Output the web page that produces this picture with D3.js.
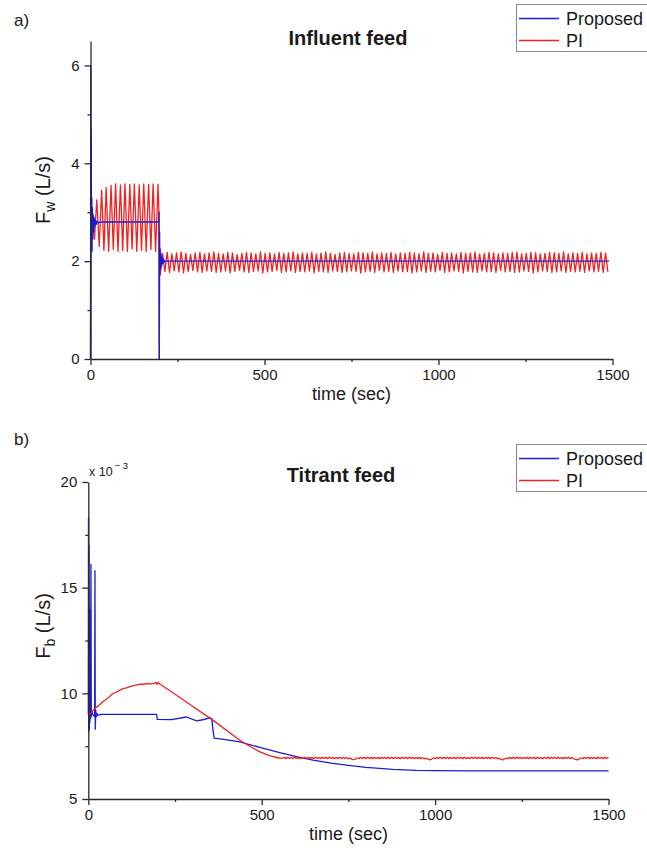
<!DOCTYPE html>
<html>
<head>
<meta charset="utf-8">
<title>Influent and titrant feed</title>
<script src="https://d3js.org/d3.v7.min.js"></script>
<style>
  body { margin: 0; background: #fff; }
  svg text { font-family: "Liberation Sans", Arial, sans-serif; fill: #1a1a1a; }
</style>
</head>
<body>
<div id="chart"></div>
<script>
// ---------------- data ----------------
const seriesNames = ["Proposed", "PI"];
const timeTicks = [0, 500, 1000, 1500];
const timeMinorTicks = [250, 750, 1250];
const fwTicks = [0, 2, 4, 6];
const fwMinorTicks = [1, 3, 5];
const fbTicks = [5, 10, 15, 20];
const fbMinorTicks = [7.5, 12.5, 17.5];

// a) influent feed Fw (L/s), proposed controller
const fwPropTime  = [0, 0.8, 1.5, 2.2, 3, 3.8, 4.6, 5.5, 6.5, 7.5, 9, 10.5, 12, 14, 16, 19, 23, 28,
                     196, 197, 197.8, 198.6, 199.5, 200.5, 201.5, 203, 204.5, 206, 208, 210, 213, 217, 222, 230, 1490];
const fwPropValue = [0, 6.0, 2.9, 4.7, 2.5, 3.3, 2.2, 3.1, 2.45, 2.95, 2.6, 2.9, 2.7, 2.85, 2.75, 2.82, 2.78, 2.8,
                     2.8, 3.0, 0, 2.6, 1.75, 2.25, 1.85, 2.15, 1.9, 2.08, 1.95, 2.04, 1.98, 2.01, 2.0, 2.0, 2.0];

// a) influent feed, PI controller (start-up and first set point)
const fwPiTime  = [0, 0.8, 5, 11.5, 18, 25, 32, 38.5, 45, 52, 59, 65.5, 72, 79, 86, 92.5, 99, 106, 113,
                   119.5, 126, 133, 140, 146.5, 153, 160, 167, 173.5, 180, 187, 194, 196.5, 197.3, 198.5, 200.5];
const fwPiValue = [0, 3.0, 3.05, 2.45, 3.25, 2.3, 3.45, 2.22, 3.5, 2.2, 3.55, 2.24, 3.58, 2.2, 3.56, 2.22, 3.58, 2.2, 3.57,
                   2.25, 3.58, 2.2, 3.56, 2.22, 3.58, 2.2, 3.57, 2.24, 3.58, 2.2, 3.57, 3.0, 0, 2.2, 1.72];
// PI oscillation after the set point change, read peak/trough every half period
const fwPiTailStart = 207;
const fwPiTailStep = 6.7;
const fwPiTail = [
  2.16,1.79,2.18,1.77,2.15,1.80,2.17,1.78,2.19,1.76,2.16,1.79,
  2.14,1.81,2.17,1.78,2.18,1.77,2.15,1.80,2.17,1.79,2.19,1.77,
  2.16,1.78,2.15,1.80,2.18,1.76,2.17,1.79,2.14,1.81,2.16,1.78,
  2.18,1.77,2.17,1.79,2.15,1.80,2.19,1.76,2.16,1.78,2.17,1.79,
  2.15,1.81,2.18,1.77,2.16,1.78,2.17,1.80,2.19,1.77,2.15,1.79,
  2.17,1.78,2.16,1.80,2.18,1.76,2.15,1.79,2.17,1.78,2.19,1.77,
  2.16,1.80,2.14,1.79,2.17,1.77,2.18,1.78,2.16,1.80,2.15,1.79,
  2.18,1.76,2.17,1.78,2.16,1.79,2.19,1.77,2.15,1.81,2.17,1.78,
  2.16,1.79,2.18,1.77,2.15,1.80,2.17,1.78,2.16,1.79,2.18,1.76,
  2.17,1.78,2.15,1.80,2.19,1.77,2.16,1.79,2.17,1.78,2.14,1.81,
  2.18,1.77,2.16,1.78,2.17,1.80,2.15,1.79,2.18,1.76,2.16,1.79,
  2.17,1.78,2.19,1.77,2.15,1.80,2.16,1.78,2.18,1.79,2.17,1.77,
  2.15,1.81,2.17,1.78,2.16,1.79,2.18,1.77,2.19,1.78,2.15,1.80,
  2.16,1.79,2.18,1.76,2.17,1.78,2.15,1.80,2.16,1.79,2.18,1.77,
  2.17,1.78,2.16,1.80,2.19,1.77,2.15,1.79,2.17,1.78,2.16,1.79,
  2.18,1.77,2.15,1.80,2.17,1.78,2.16,1.79,2.18,1.77,2.17,1.78
];

// b) titrant feed Fb (x 10^-3 L/s), proposed controller
const fbPropTime  = [0, 0.6, 1.4, 2.2, 3, 3.6, 4.5, 5.5, 6.5, 7.7, 8.6, 10, 13, 18.3, 19.2, 20.1, 21.5, 23, 25, 28, 35,
                     197, 199, 240, 283, 312, 330, 351, 356, 360, 363, 400, 437, 500, 552, 600, 648, 700, 745, 800,
                     840, 878, 946, 1000, 1100, 1500];
const fbPropValue = [9.0, 18.3, 8.2, 17.0, 8.3, 14.0, 8.6, 12.0, 8.8, 16.1, 8.9, 9.2, 9.0, 8.9, 15.8, 8.3, 9.2, 8.9, 9.05, 8.95, 9.0,
                     9.0, 8.77, 8.76, 8.88, 8.7, 8.75, 8.84, 8.8, 8.2, 7.88, 7.8, 7.7, 7.42, 7.2, 7.0, 6.84, 6.7, 6.6, 6.5,
                     6.45, 6.4, 6.35, 6.34, 6.33, 6.33];

// b) titrant feed, PI controller (rise and ramp down)
const fbPiTime  = [0, 10, 20, 30, 40, 50, 60, 70, 80, 90, 100, 110, 120, 130, 140, 150, 160, 170, 180, 190,
                   195, 198, 202, 205, 264, 360, 437, 470, 495, 520, 550, 560];
const fbPiValue = [8.95, 9.12, 9.3, 9.42, 9.58, 9.7, 9.83, 9.98, 10.05, 10.14, 10.22, 10.26, 10.32, 10.36, 10.4, 10.44, 10.43, 10.46, 10.45, 10.47,
                   10.52, 10.42, 10.52, 10.45, 9.8, 8.72, 7.78, 7.45, 7.23, 7.06, 6.94, 6.93];
// PI ripple on the final level, read every 5 s
const fbPiTailStart = 560;
const fbPiTailStep = 5;
const fbPiTail = [
  6.93,6.97,6.91,6.97,6.92,6.98,6.91,6.97,6.92,6.96,6.91,6.97,
  6.92,6.98,6.91,6.97,6.92,6.97,6.91,6.98,6.92,6.96,6.91,6.97,
  6.92,6.97,6.91,6.98,6.92,6.97,6.91,6.96,6.92,6.97,6.91,6.98,
  6.92,6.96,6.90,6.94,6.88,6.86,6.89,6.94,6.91,6.97,6.92,6.97,
  6.91,6.98,6.92,6.97,6.91,6.97,6.92,6.96,6.91,6.97,6.92,6.98,
  6.91,6.97,6.92,6.97,6.91,6.98,6.92,6.96,6.91,6.97,6.92,6.97,
  6.91,6.98,6.92,6.97,6.91,6.96,6.92,6.97,6.91,6.95,6.90,6.93,
  6.87,6.85,6.89,6.94,6.91,6.97,6.92,6.98,6.91,6.97,6.92,6.97,
  6.91,6.96,6.92,6.97,6.91,6.98,6.92,6.97,6.91,6.97,6.92,6.96,
  6.91,6.97,6.92,6.98,6.91,6.97,6.92,6.97,6.91,6.96,6.92,6.97,
  6.91,6.98,6.92,6.96,6.90,6.93,6.87,6.85,6.89,6.94,6.91,6.97,
  6.92,6.97,6.91,6.98,6.92,6.97,6.91,6.96,6.92,6.97,6.91,6.98,
  6.92,6.97,6.91,6.97,6.92,6.96,6.91,6.98,6.92,6.97,6.91,6.97,
  6.92,6.98,6.91,6.97,6.92,6.96,6.91,6.97,6.92,6.98,6.91,6.96,
  6.90,6.87,6.85,6.89,6.94,6.91,6.97,6.92,6.98,6.91,6.97,6.92,
  6.96,6.91,6.97,6.92,6.98,6.91,6.97,6.92,6.96
];

// ---------------- drawing ----------------
const width = 647, height = 858;
const blue = "#1c1cd8", red = "#ee2222", axisColor = "#2a2a2a";

const svg = d3.select("#chart").append("svg")
  .attr("width", width)
  .attr("height", height);

// join a time array and a value array into [t, v] pairs
function pairs(times, values) {
  return times.map(function (t, i) { return [t, values[i]]; });
}
// tail samples are equally spaced in time
function tailPairs(start, step, values) {
  return values.map(function (v, i) { return [start + i * step, v]; });
}

function drawPanel(p) {
  const g = svg.append("g");

  const x = d3.scaleLinear().domain([0, 1500]).range(p.xRange);
  const y = d3.scaleLinear().domain(p.yDomain).range(p.yRange);

  const line = d3.line()
    .x(function (d) { return x(d[0]); })
    .y(function (d) { return y(d[1]); });

  // lines, drawn in the given order
  p.lines.forEach(function (s) {
    g.append("path")
      .datum(s.data)
      .attr("fill", "none")
      .attr("stroke", s.color)
      .attr("stroke-width", 1.3)
      .attr("stroke-linejoin", "round")
      .attr("d", line);
  });

  // minor ticks first, then the main axes
  g.append("g")
    .attr("transform", "translate(0," + p.yRange[0] + ")")
    .call(d3.axisBottom(x).tickValues(timeMinorTicks).tickSize(3).tickFormat(""))
    .call(function (a) { a.select(".domain").remove(); });
  g.append("g")
    .attr("transform", "translate(" + p.xRange[0] + ",0)")
    .call(d3.axisLeft(y).tickValues(p.yMinor).tickSize(3).tickFormat(""))
    .call(function (a) { a.select(".domain").remove(); });

  g.append("g")
    .attr("transform", "translate(0," + p.yRange[0] + ")")
    .call(d3.axisBottom(x).tickValues(timeTicks).tickFormat(d3.format("d"))
      .tickSize(6).tickSizeOuter(0).tickPadding(4));
  g.append("g")
    .attr("transform", "translate(" + p.xRange[0] + ",0)")
    .call(d3.axisLeft(y).tickValues(p.yTicks).tickFormat(d3.format("d"))
      .tickSize(6).tickSizeOuter(0).tickPadding(5));

  g.selectAll(".tick line, .domain")
    .attr("stroke", axisColor)
    .attr("stroke-width", 1.3);
  g.selectAll(".tick text")
    .attr("font-size", 15)
    .attr("font-family", "Liberation Sans, Arial, sans-serif")
    .attr("fill", "#1a1a1a");

  // panel letter and title
  g.append("text").attr("x", 14).attr("y", p.letterY)
    .attr("font-size", 17).text(p.letter);
  g.append("text").attr("x", p.titleX).attr("y", p.titleY)
    .attr("text-anchor", "middle").attr("font-size", 20).attr("font-weight", "bold")
    .text(p.title);

  // axis labels
  g.append("text")
    .attr("x", (p.xRange[0] + p.xRange[1]) / 2)
    .attr("y", p.yRange[0] + 41)
    .attr("text-anchor", "middle").attr("font-size", 18)
    .text("time (sec)");

  const yl = g.append("text")
    .attr("transform", "translate(50," + p.yLabelY + ") rotate(-90)")
    .attr("text-anchor", "middle").attr("font-size", 20);
  yl.append("tspan").text("F");
  yl.append("tspan").attr("font-size", 14).attr("dy", 5).text(p.sub);
  yl.append("tspan").attr("dy", -5).text(" (L/s)");

  // legend
  const lg = g.append("g");
  lg.append("rect")
    .attr("x", 516.5).attr("y", p.legendY)
    .attr("width", 140).attr("height", 47)
    .attr("fill", "#fff").attr("stroke", "#8a8a8a").attr("stroke-width", 1);
  seriesNames.forEach(function (name, i) {
    const ly = p.legendY + 14 + i * 22;
    lg.append("line")
      .attr("x1", 519).attr("x2", 559).attr("y1", ly).attr("y2", ly)
      .attr("stroke", i === 0 ? blue : red).attr("stroke-width", 1.3);
    lg.append("text").attr("x", 566).attr("y", ly + 6.5)
      .attr("font-size", 18).text(name);
  });

  return g;
}

// a) Influent feed
drawPanel({
  letter: "a)", letterY: 26,
  title: "Influent feed", titleX: 348, titleY: 45,
  sub: "w", yLabelY: 190,
  xRange: [90.5, 612.5], yRange: [359, 41], yDomain: [0, 6.5],
  yTicks: fwTicks, yMinor: fwMinorTicks,
  legendY: 4.5,
  lines: [
    { color: red, data: pairs(fwPiTime, fwPiValue).concat(tailPairs(fwPiTailStart, fwPiTailStep, fwPiTail)) },
    { color: blue, data: pairs(fwPropTime, fwPropValue) }
  ]
});

// b) Titrant feed
const panelB = drawPanel({
  letter: "b)", letterY: 445,
  title: "Titrant feed", titleX: 341, titleY: 482,
  sub: "b", yLabelY: 626,
  xRange: [88.3, 608.5], yRange: [799, 482], yDomain: [5, 20],
  yTicks: fbTicks, yMinor: fbMinorTicks,
  legendY: 444.5,
  lines: [
    { color: blue, data: pairs(fbPropTime, fbPropValue) },
    { color: red, data: pairs(fbPiTime, fbPiValue).concat(tailPairs(fbPiTailStart, fbPiTailStep, fbPiTail)) }
  ]
});

// scale factor note above the b) axis
const exp = panelB.append("text").attr("x", 89).attr("y", 475.5).attr("font-size", 12.5);
exp.append("tspan").text("x 10");
exp.append("tspan").attr("font-size", 9.5).attr("dy", -7).attr("dx", 2).text("\u2212 3");
</script>
</body>
</html>
